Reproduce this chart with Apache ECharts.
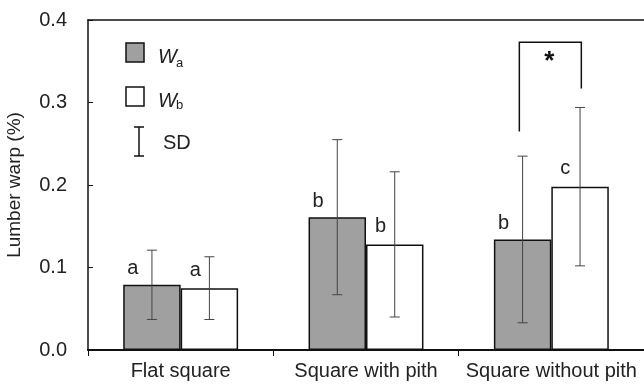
<!DOCTYPE html>
<html>
<head>
<meta charset="utf-8">
<script src="https://cdn.jsdelivr.net/npm/echarts@6/dist/echarts.min.js"></script>
<style>
  html, body { margin: 0; padding: 0; background: #fff; }
  #main { width: 644px; height: 384px; }
</style>
</head>
<body>
<div id="main"></div>
<script>
// data
const categories = ['Flat square', 'Square with pith', 'Square without pith'];
const waMean = [0.079, 0.161, 0.134];
const waSD = [0.042, 0.094, 0.101];
const wbMean = [0.075, 0.128, 0.198];
const wbSD = [0.038, 0.088, 0.096];
const waLetters = ['a', 'b', 'b'];
const wbLetters = ['a', 'b', 'c'];
const yTicks = [0, 0.1, 0.2, 0.3, 0.4];
// significance bracket: category, top, left end, right end, star
const brackets = [[2, 0.373, 0.265, 0.317, 0.352]];

const FONT = 'Liberation Sans, Arial, sans-serif';
const BAR_FRAC = 0.31;

const chart = echarts.init(document.getElementById('main'));

function errData(means, sds) {
  return means.map((m, i) => [i, m, sds[i]]);
}

function errRender(side) {
  return function (params, api) {
    const i = api.value(0), m = api.value(1), sd = api.value(2);
    const bw = api.size([1, 0])[0] * BAR_FRAC;
    const x = api.coord([i, m])[0] + side * bw / 2;
    const top = api.coord([i, m + sd])[1];
    const bot = api.coord([i, m - sd])[1];
    const st = { stroke: '#444', lineWidth: 1 };
    return {
      type: 'group',
      children: [
        { type: 'line', shape: { x1: x, y1: top, x2: x, y2: bot }, style: st },
        { type: 'line', shape: { x1: x - 5, y1: top, x2: x + 5, y2: top }, style: st },
        { type: 'line', shape: { x1: x - 5, y1: bot, x2: x + 5, y2: bot }, style: st }
      ]
    };
  };
}

function bracketRender(params, api) {
  const i = api.value(0);
  const c = api.coord([i, api.value(1)]);
  const yl = api.coord([i, api.value(2)])[1];
  const yr = api.coord([i, api.value(3)])[1];
  const ys = api.coord([i, api.value(4)])[1];
  const xl = c[0] - 32, xr = c[0] + 30;
  return {
    type: 'group',
    children: [
      { type: 'polyline', shape: { points: [[xl, yl], [xl, c[1]], [xr, c[1]], [xr, yr]] },
        style: { stroke: '#111', lineWidth: 1.5, fill: null } },
      { type: 'text', x: c[0] - 2, y: ys + 2,
        style: { text: '*', font: 'bold 26px ' + FONT, fill: '#111', align: 'center', verticalAlign: 'middle' } }
    ]
  };
}

const option = {
  animation: false,
  textStyle: { fontFamily: FONT },
  grid: { left: 88, right: 0, top: 20, bottom: 34, containLabel: false, outerBoundsMode: 'none' },
  xAxis: [{
    type: 'category',
    data: categories,
    axisLine: { lineStyle: { color: '#111', width: 2 } },
    axisTick: { show: true, length: 6, interval: 0, lineStyle: { color: '#111' } },
    axisLabel: { fontSize: 20, color: '#222', margin: 11, interval: 0 }
  }, {
    type: 'category',
    position: 'top',
    data: categories,
    axisLine: { lineStyle: { color: '#111', width: 1.5 } },
    axisTick: { show: false },
    axisLabel: { show: false }
  }],
  yAxis: {
    type: 'value',
    min: yTicks[0],
    max: yTicks[yTicks.length - 1],
    interval: 0.1,
    name: 'Lumber warp (%)',
    nameLocation: 'middle',
    nameGap: 64,
    nameTextStyle: { fontSize: 19, color: '#222' },
    axisLine: { show: true, lineStyle: { color: '#111', width: 1.5 } },
    axisTick: { show: true, inside: true, length: 5, lineStyle: { color: '#111' } },
    axisLabel: { fontSize: 20, color: '#222', margin: 21, formatter: v => v.toFixed(1) },
    splitLine: { show: false }
  },
  series: [{
    name: 'Wa',
    type: 'bar',
    barWidth: (BAR_FRAC * 100) + '%',
    barGap: '0%',
    data: waMean,
    itemStyle: { color: '#a0a0a0', borderColor: '#111', borderWidth: 1.5 },
    label: {
      show: true, position: [4, -16], align: 'left', verticalAlign: 'middle',
      fontSize: 20, color: '#222', formatter: p => waLetters[p.dataIndex]
    }
  }, {
    name: 'Wb',
    type: 'bar',
    barWidth: (BAR_FRAC * 100) + '%',
    barGap: '0%',
    data: wbMean,
    itemStyle: { color: '#fff', borderColor: '#111', borderWidth: 1.5 },
    label: {
      show: true, position: [9, -18], align: 'left', verticalAlign: 'middle',
      fontSize: 20, color: '#222', formatter: p => wbLetters[p.dataIndex]
    }
  }, {
    type: 'custom',
    renderItem: errRender(-1),
    data: errData(waMean, waSD),
    z: 5
  }, {
    type: 'custom',
    renderItem: errRender(1),
    data: errData(wbMean, wbSD),
    z: 5
  }, {
    type: 'custom',
    renderItem: bracketRender,
    data: brackets,
    z: 6
  }],
  graphic: [
    { type: 'rect', shape: { x: 126, y: 43, width: 18, height: 19 },
      style: { fill: '#a0a0a0', stroke: '#111', lineWidth: 1.5 } },
    { type: 'text', x: 158, y: 57, style: { text: 'W', font: 'italic 20px ' + FONT, fill: '#222', verticalAlign: 'middle' } },
    { type: 'text', x: 176, y: 63, style: { text: 'a', font: '13px ' + FONT, fill: '#222', verticalAlign: 'middle' } },
    { type: 'rect', shape: { x: 126, y: 87, width: 18, height: 19 },
      style: { fill: '#fff', stroke: '#111', lineWidth: 1.5 } },
    { type: 'text', x: 158, y: 101, style: { text: 'W', font: 'italic 20px ' + FONT, fill: '#222', verticalAlign: 'middle' } },
    { type: 'text', x: 176, y: 105, style: { text: 'b', font: '13px ' + FONT, fill: '#222', verticalAlign: 'middle' } },
    { type: 'polyline', shape: { points: [[134, 127], [144, 127]] }, style: { stroke: '#111', lineWidth: 1.5 } },
    { type: 'polyline', shape: { points: [[139, 127], [139, 156]] }, style: { stroke: '#111', lineWidth: 1.5 } },
    { type: 'polyline', shape: { points: [[134, 156], [144, 156]] }, style: { stroke: '#111', lineWidth: 1.5 } },
    { type: 'text', x: 163, y: 143, style: { text: 'SD', font: '20px ' + FONT, fill: '#222', verticalAlign: 'middle' } }
  ]
};

chart.setOption(option);
</script>
</body>
</html>
